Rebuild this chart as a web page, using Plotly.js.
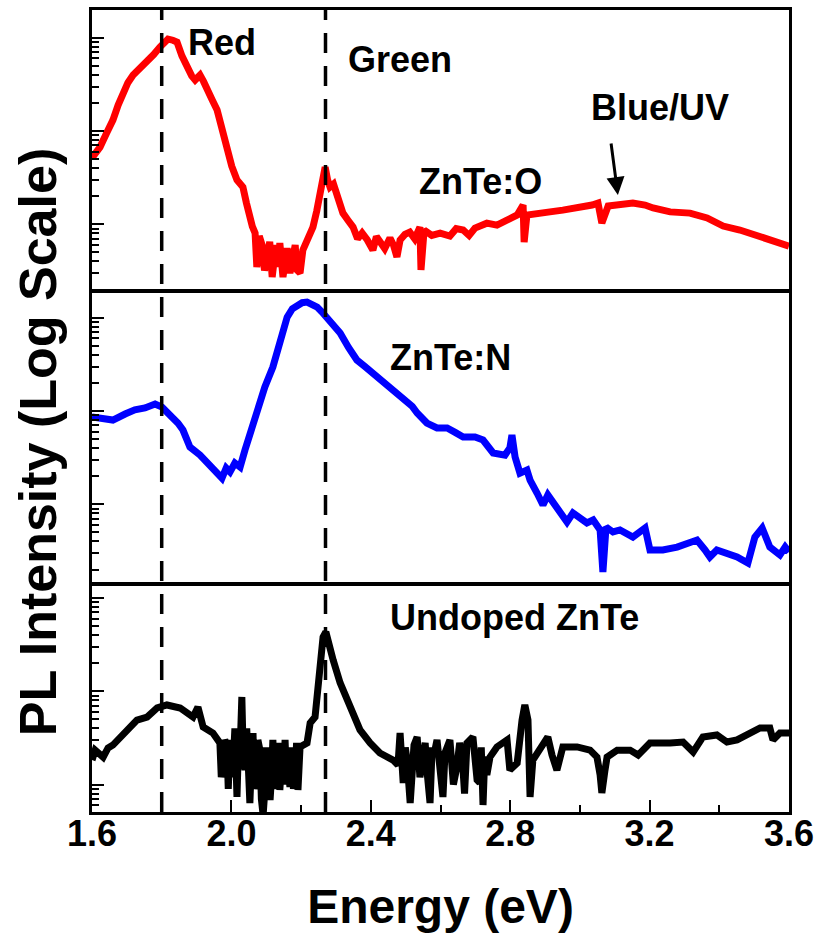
<!DOCTYPE html>
<html>
<head>
<meta charset="utf-8">
<script src="https://cdn.plot.ly/plotly-3.0.1.min.js"></script>
<style>
  html, body { margin: 0; padding: 0; background: #ffffff; }
  #chart { width: 821px; height: 939px; }
</style>
</head>
<body>
<div id="chart"></div>
<script>
// Photoluminescence spectra, photon energy in eV, intensity in arbitrary units (log)

// ZnTe:O (red)
const energyO = [1.600,1.623,1.642,1.660,1.675,1.689,1.703,1.718,1.738,1.758,1.777,1.795,1.808,1.818,1.832,1.844,1.858,1.873,1.886,1.896,1.910,1.920,1.930,1.945,1.959,1.973,1.987,2.001,2.016,2.033,2.043,2.053,2.060,2.068,2.073,2.080,2.088,2.095,2.102,2.110,2.117,2.123,2.128,2.134,2.139,2.148,2.154,2.160,2.168,2.177,2.183,2.188,2.197,2.205,2.217,2.226,2.234,2.245,2.254,2.262,2.269,2.276,2.283,2.293,2.303,2.312,2.320,2.335,2.349,2.362,2.375,2.390,2.406,2.416,2.426,2.440,2.455,2.465,2.475,2.484,2.498,2.512,2.526,2.541,2.544,2.553,2.575,2.599,2.627,2.645,2.665,2.682,2.699,2.716,2.733,2.762,2.791,2.820,2.837,2.840,2.848,2.877,2.914,2.951,3.000,3.035,3.052,3.063,3.081,3.115,3.152,3.187,3.210,3.259,3.316,3.365,3.411,3.459,3.517,3.566,3.600];
const intensityO = [51.4,67.3,95.0,131,190,255,330,398,470,536,660,794,900,968,940,899,640,485,390,352,398,340,275,215,168,105,67.3,42.0,29.9,25.1,17.0,11.1,9.5,8.07,3.48,7.5,6.0,3.2,4.92,6.5,2.72,4.0,6.0,3.5,6.31,2.72,4.5,5.57,3.0,4.47,6.0,3.24,3.01,5.30,6.79,8.0,9.35,14.0,23.3,33.0,41.1,30.0,25.1,27.0,21.6,16.5,13.2,11.0,9.35,7.0,8.07,6.8,5.30,7.4,6.31,5.5,7.13,6.0,4.47,6.79,7.8,8.26,7.0,9.35,3.24,8.69,7.6,8.07,7.50,9.0,8.69,7.6,9.12,9.8,10.3,9.82,11.1,12.6,16.1,6.46,12.6,13.2,13.6,14.2,15.0,16.1,16.9,10.3,15.7,16.1,16.9,16.1,15.0,13.6,13.2,11.7,9.59,8.69,7.31,6.31,5.85];

// ZnTe:N (blue)
const energyN = [1.600,1.623,1.660,1.695,1.723,1.752,1.781,1.801,1.816,1.832,1.847,1.861,1.881,1.910,1.939,1.959,1.973,1.985,1.996,2.010,2.025,2.039,2.053,2.073,2.096,2.119,2.139,2.160,2.175,2.188,2.203,2.217,2.232,2.246,2.260,2.274,2.292,2.312,2.336,2.360,2.383,2.406,2.435,2.464,2.484,2.504,2.519,2.533,2.547,2.561,2.590,2.619,2.642,2.665,2.699,2.722,2.751,2.785,2.799,2.805,2.814,2.828,2.848,2.857,2.877,2.894,2.908,2.929,2.943,2.963,2.980,3.000,3.020,3.038,3.058,3.066,3.075,3.095,3.115,3.152,3.187,3.201,3.238,3.279,3.316,3.336,3.359,3.373,3.393,3.411,3.451,3.482,3.502,3.523,3.545,3.574,3.589,3.600];
const intensityN = [86.3,84.1,80.0,92.9,103,108,119,110,98.0,86.3,74.0,62.5,41.1,33.7,26.4,22.2,19.1,24.5,22.2,27.7,25.1,38.2,58.1,103,181,296,577,1016,1250,1368,1450,1472,1400,1303,1150,993,840,685,480,352,300,255,205,168,148,131,112,95.1,84.0,74.3,65.8,65.8,59.0,52.6,52.6,48.9,35.5,33.7,40.1,55.3,32.1,21.6,23.3,18.2,13.2,9.84,12.6,9.84,8.69,6.46,8.07,7.13,6.31,6.79,5.31,1.88,5.71,5.05,5.31,4.46,5.57,3.24,3.24,3.48,3.85,4.14,3.24,2.72,3.24,3.08,2.72,2.35,4.46,5.57,3.48,2.86,3.48,3.08];

// Undoped ZnTe (black)
const energyU = [1.600,1.609,1.632,1.646,1.660,1.689,1.709,1.729,1.758,1.787,1.815,1.853,1.890,1.904,1.919,1.947,1.967,1.971,1.976,1.981,1.987,1.991,1.996,2.001,2.005,2.010,2.016,2.020,2.025,2.030,2.034,2.039,2.044,2.048,2.053,2.058,2.062,2.066,2.071,2.076,2.082,2.086,2.091,2.096,2.100,2.105,2.111,2.115,2.119,2.125,2.131,2.135,2.139,2.145,2.150,2.154,2.158,2.163,2.168,2.173,2.178,2.183,2.187,2.191,2.197,2.217,2.226,2.240,2.249,2.263,2.271,2.280,2.292,2.312,2.332,2.349,2.369,2.398,2.426,2.464,2.478,2.484,2.493,2.499,2.504,2.513,2.518,2.524,2.533,2.541,2.550,2.556,2.561,2.570,2.576,2.581,2.590,2.598,2.607,2.613,2.619,2.627,2.637,2.647,2.655,2.662,2.669,2.676,2.693,2.699,2.705,2.713,2.717,2.722,2.727,2.733,2.742,2.762,2.779,2.791,2.799,2.820,2.834,2.842,2.851,2.857,2.865,2.885,2.908,2.920,2.934,2.951,2.992,3.029,3.049,3.058,3.063,3.072,3.078,3.107,3.144,3.167,3.201,3.259,3.296,3.325,3.353,3.393,3.422,3.451,3.488,3.517,3.545,3.554,3.574,3.600];
const intensityU = [18.3,23.4,19.7,24.7,26.5,34.0,40.4,49.2,53.0,66.2,71.3,66.2,53.0,67.8,41.4,35.7,27.9,12.0,15.4,30.1,26.5,9.0,30.1,12.0,16.2,40.0,7.36,25.0,23.4,86.9,20.0,14.3,40.0,8.75,6.34,20.0,35.7,9.0,11.2,30.0,23.4,7.0,4.72,8.75,25.0,17.0,6.84,12.0,30.1,9.0,12.7,28.0,8.75,20.0,10.0,30.1,11.0,14.3,9.42,25.0,9.0,12.7,28.0,8.75,25.3,27.9,45.7,53.0,123,382,432,298,216,123,80.5,58.5,38.5,27.9,21.8,18.3,16.2,35.7,10.4,25.0,18.3,6.34,20.0,26.5,32.4,12.0,19.7,28.0,14.3,6.34,25.0,20.7,30.1,12.0,7.36,22.0,26.5,30.1,10.0,15.4,28.0,20.7,8.0,27.9,32.4,14.0,11.2,10.4,25.0,6.04,20.0,12.7,19.7,25.3,28.6,30.1,14.3,17.0,49.2,71.3,49.2,7.36,18.3,23.4,32.4,20.7,14.3,25.3,25.3,23.4,19.7,12.7,8.13,14.3,19.7,23.4,23.4,20.7,27.9,27.9,28.6,22.3,32.4,34.0,28.6,30.1,35.7,40.4,40.4,30.1,35.7,35.7];

// Energy axis ticks
const energyTickVals = [1.6, 2.0, 2.4, 2.8, 3.2, 3.6];
const energyTickText = ['1.6', '2.0', '2.4', '2.8', '3.2', '3.6'];

// Guide lines (eV)
const guideEnergies = [1.8, 2.27];

// Blue/UV band marker (eV, intensity)
const blueMarkEnergy = 3.109;
const blueMarkIntensity = 20.6;

const FONT = 'Liberation Sans, Arial, Helvetica, sans-serif';

const traces = [
  { x: energyO, y: intensityO, xaxis: 'x', yaxis: 'y', mode: 'lines',
    line: { color: '#ff0000', width: 7 }, name: 'ZnTe:O' },
  { x: energyN, y: intensityN, xaxis: 'x2', yaxis: 'y2', mode: 'lines',
    line: { color: '#0000ff', width: 7 }, name: 'ZnTe:N' },
  { x: energyU, y: intensityU, xaxis: 'x3', yaxis: 'y3', mode: 'lines',
    line: { color: '#000000', width: 7 }, name: 'Undoped ZnTe' }
];

function logAxis(domain, range, anchor) {
  return {
    type: 'log', domain: domain, range: range, anchor: anchor,
    showline: true, mirror: true, linewidth: 3, linecolor: '#000',
    showgrid: false, zeroline: false, showticklabels: false,
    ticks: 'inside', ticklen: 12, tickwidth: 2, tickcolor: '#000', dtick: 1,
    minor: { ticks: 'inside', ticklen: 7, tickwidth: 2, tickcolor: '#000', dtick: 'D1', showgrid: false }
  };
}

function hiddenX(anchor) {
  return {
    domain: [0, 1], range: [1.6, 3.6], anchor: anchor, matches: 'x3',
    showline: true, mirror: true, linewidth: 3, linecolor: '#000',
    showgrid: false, zeroline: false, showticklabels: false, ticks: ''
  };
}

const shapes = guideEnergies.map(e => ({
  type: 'line', xref: 'x3', yref: 'paper', x0: e, x1: e, y0: 0, y1: 1,
  line: { color: '#000', width: 3.5, dash: '20px,13px' }, layer: 'above'
}));

const labelFont = { family: FONT, size: 36, color: '#000', weight: 'bold' };
function label(text, x, y) {
  return { text: text, xref: 'paper', yref: 'paper', x: x, y: y,
    xanchor: 'center', yanchor: 'middle', showarrow: false, font: labelFont };
}

const annotations = [
  label('Red', 0.1865, 0.960),
  label('Green', 0.442, 0.938),
  label('Blue/UV', 0.815, 0.879),
  label('ZnTe:O', 0.557, 0.786),
  label('ZnTe:N', 0.515, 0.567),
  label('Undoped ZnTe', 0.6055, 0.243),
  { text: '', xref: 'x', yref: 'y', x: blueMarkEnergy, y: Math.log10(blueMarkIntensity),
    showarrow: true, ax: -7, ay: -53, arrowhead: 2, arrowsize: 1.2, arrowwidth: 3,
    arrowcolor: '#000', standoff: 0 },
  { text: 'PL Intensity (Log Scale)', xref: 'paper', yref: 'paper', x: -0.0775, y: 0.461,
    xanchor: 'center', yanchor: 'middle', textangle: -90, showarrow: false,
    font: { family: FONT, size: 52, color: '#000', weight: 'bold' } }
];

const layout = {
  width: 821, height: 939,
  margin: { l: 92, r: 32, t: 10, b: 127 },
  paper_bgcolor: '#ffffff', plot_bgcolor: '#ffffff',
  showlegend: false,
  font: { family: FONT, color: '#000' },
  xaxis: hiddenX('y'),
  xaxis2: hiddenX('y2'),
  xaxis3: {
    domain: [0, 1], range: [1.6, 3.6], anchor: 'y3',
    showline: true, mirror: true, linewidth: 3, linecolor: '#000',
    showgrid: false, zeroline: false,
    tickmode: 'array', tickvals: energyTickVals, ticktext: energyTickText,
    ticks: 'inside', ticklen: 12, tickwidth: 2, tickcolor: '#000',
    minor: { tickmode: 'linear', tick0: 1.6, dtick: 0.2, ticks: 'inside', ticklen: 7, tickwidth: 2, tickcolor: '#000', showgrid: false },
    tickfont: { family: FONT, size: 36, color: '#000', weight: 'bold' },
    ticklabelstandoff: -12,
    title: { text: 'Energy (eV)', font: { family: FONT, size: 48, color: '#000', weight: 'bold' }, standoff: 37 }
  },
  yaxis: logAxis([0.6521, 1.0], [0.307, 3.297], 'x'),
  yaxis2: logAxis([0.2855, 0.6471], [0.156, 3.265], 'x2'),
  yaxis3: logAxis([0, 0.2830], [0.706, 3.139], 'x3'),
  shapes: shapes,
  annotations: annotations
};

Plotly.newPlot('chart', traces, layout, { displayModeBar: false, staticPlot: true });
</script>
</body>
</html>
